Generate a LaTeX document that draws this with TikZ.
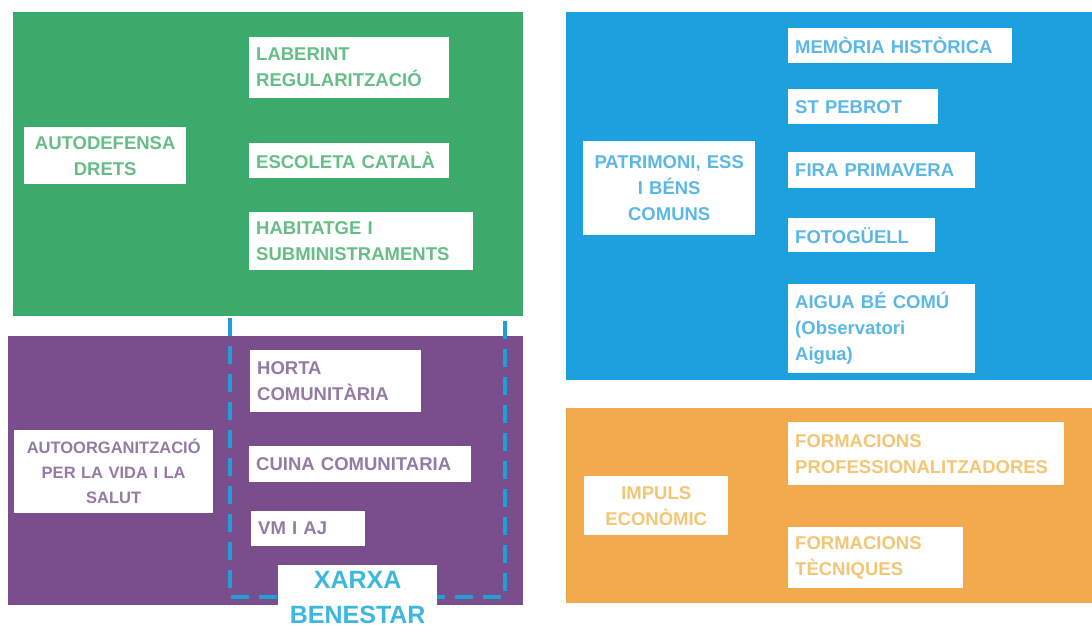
\documentclass[tikz,border=0pt]{standalone}
\usepackage{fontspec}
\setmainfont{Liberation Sans}
\definecolor{gpanel}{HTML}{3BAA6B}
\definecolor{gtext}{HTML}{66BE86}
\definecolor{ppanel}{HTML}{7A4E8D}
\definecolor{ptext}{HTML}{957AA3}
\definecolor{bpanel}{HTML}{1CA0DE}
\definecolor{btext}{HTML}{5BB8E6}
\definecolor{opanel}{HTML}{F3AA4C}
\definecolor{otext}{HTML}{F3C676}
\definecolor{xline}{HTML}{1E9FD8}
\definecolor{xtext}{HTML}{3CB8DE}
\tikzset{
  panel/.style={draw=none, anchor=north west, inner sep=0pt},
  wbox/.style={fill=white, draw=none, anchor=north west, inner xsep=7pt, inner ysep=0pt,
    font=\bfseries\fontsize{18.5}{26}\selectfont},
  lbox/.style={wbox, align=left},
  cbox/.style={wbox, align=center},
  xdash/.style={draw=xline, line width=4pt, dash pattern=on 18pt off 10pt},
}
\begin{document}
\begin{tikzpicture}[x=1pt,y=-1pt]
\useasboundingbox (0,0) rectangle (1092,630);
% panels
\node[panel, fill=gpanel, minimum width=510pt, minimum height=304pt] (green) at (13,12) {};
\node[panel, fill=ppanel, minimum width=515pt, minimum height=269pt] (purple) at (8,336) {};
\node[panel, fill=bpanel, minimum width=526pt, minimum height=368pt] (blue) at (566,12) {};
\node[panel, fill=opanel, minimum width=526pt, minimum height=195pt] (orange) at (566,408) {};
% green boxes
\node[lbox, text=gtext, text width=186pt, minimum height=61pt] (lab) at (249,37) {LABERINT\\REGULARITZACIÓ};
\node[cbox, text=gtext, text width=148pt, minimum height=57pt] (auto) at (24,127) {AUTODEFENSA\\DRETS};
\node[lbox, text=gtext, text width=186pt, minimum height=35pt] (esc) at (249,143) {ESCOLETA CATALÀ};
\node[lbox, text=gtext, text width=210pt, minimum height=58pt] (hab) at (249,212) {HABITATGE I\\SUBMINISTRAMENTS};
% xarxa bracket
\coordinate (x1) at (230,318);
\coordinate (x2) at (230,597);
\coordinate (x3) at (505,597);
\coordinate (x4) at (505,318);
\draw[xdash] (x1) -- (x2) -- (x3) -- (x4);
% purple boxes
\node[lbox, text=ptext, text width=157pt, minimum height=62pt] (horta) at (250,350) {HORTA\\COMUNITÀRIA};
\node[cbox, text=ptext, text width=185pt, minimum height=83pt, font=\bfseries\fontsize{16.5}{25}\selectfont] (autoorg) at (14,430) {AUTOORGANITZACIÓ\\PER LA VIDA I LA\\SALUT};
\node[lbox, text=ptext, text width=208pt, minimum height=36pt] (cuina) at (249,446) {CUINA COMUNITARIA};
\node[lbox, text=ptext, text width=100pt, minimum height=35pt] (vm) at (251,511) {VM I AJ};
\node[fill=white, anchor=north west, inner sep=0pt, minimum width=159pt, minimum height=65pt, text=xtext, align=center, font=\bfseries\fontsize{25}{35}\selectfont] (xarxa) at (278,565) {XARXA\\BENESTAR};
% blue boxes
\node[lbox, text=btext, text width=210pt, minimum height=35pt] (mem) at (788,28) {MEMÒRIA HISTÒRICA};
\node[lbox, text=btext, text width=136pt, minimum height=35pt] (st) at (788,89) {ST PEBROT};
\node[lbox, text=btext, text width=173pt, minimum height=36pt] (fira) at (788,152) {FIRA PRIMAVERA};
\node[cbox, text=btext, text width=158pt, minimum height=94pt] (patr) at (583,141) {PATRIMONI, ESS\\I BÉNS\\COMUNS};
\node[lbox, text=btext, text width=133pt, minimum height=34pt] (foto) at (788,218) {FOTOGÜELL};
\node[lbox, text=btext, text width=173pt, minimum height=89pt] (aigua) at (788,284) {AIGUA BÉ COMÚ\\(Observatori\\Aigua)};
% orange boxes
\node[lbox, text=otext, text width=262pt, minimum height=63pt] (fprof) at (788,422) {FORMACIONS\\PROFESSIONALITZADORES};
\node[cbox, text=otext, text width=130pt, minimum height=59pt] (imp) at (584,476) {IMPULS\\ECONÒMIC};
\node[lbox, text=otext, text width=161pt, minimum height=61pt] (ftec) at (788,527) {FORMACIONS\\TÈCNIQUES};
\end{tikzpicture}
\end{document}
